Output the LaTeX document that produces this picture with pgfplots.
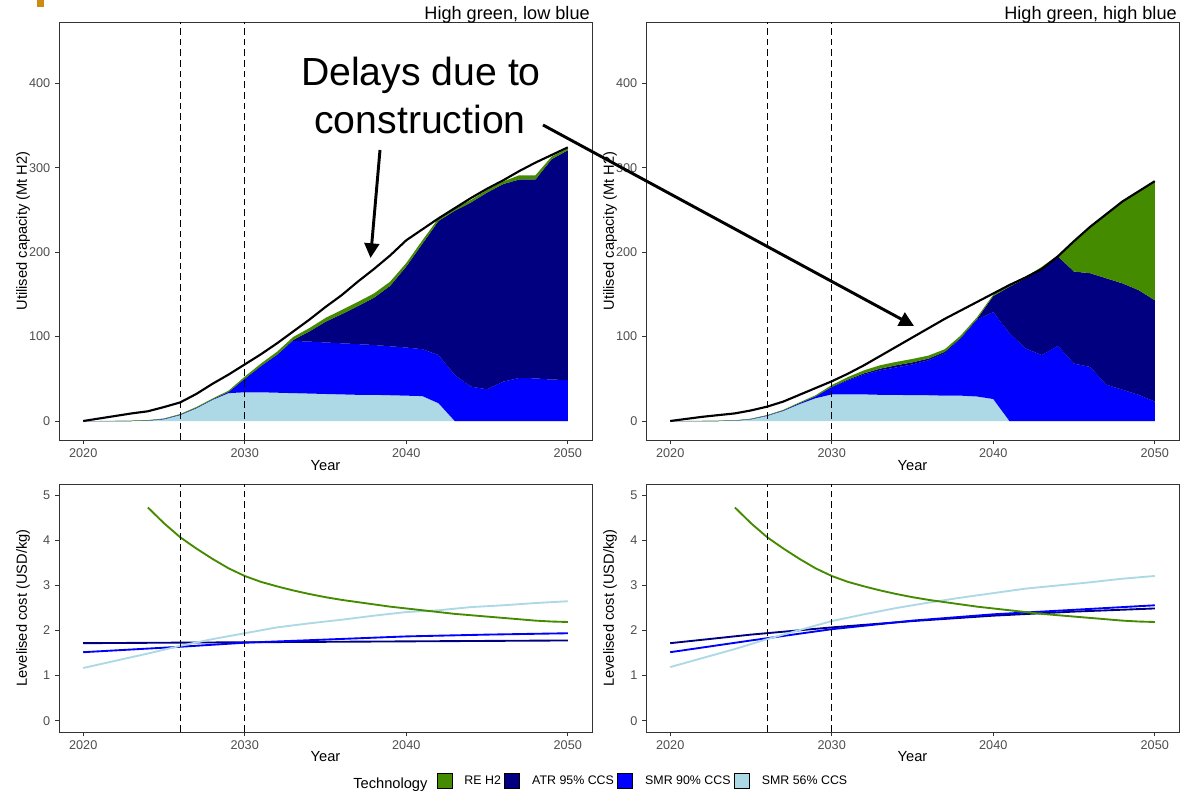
\documentclass[border=0pt]{standalone}
\usepackage{pgfplots}
\pgfplotsset{compat=1.18}
\usepackage{pgfplotstable}
\usepackage{fontspec}
\setmainfont{Liberation Sans}
\usetikzlibrary{arrows.meta}

\definecolor{reh}{RGB}{69,139,0}
\definecolor{atr}{RGB}{0,0,128}
\definecolor{smrn}{RGB}{0,0,255}
\definecolor{smrf}{RGB}{173,216,230}
\definecolor{tickgray}{RGB}{77,77,77}
\definecolor{framegray}{RGB}{51,51,51}
\definecolor{goldmark}{RGB}{204,140,20}

% Top-left: High green, low blue (utilised capacity, Mt H2)
\pgfplotstableread{
year smrf smrn atr reh total
2020 0 0 0 0 0
2021 0 0 0 0 3
2022 0 0 0 0.3 6
2023 0 0 0 0.5 9
2024 0.3 0.3 0 0.5 11.5
2025 2 0.5 0 0.5 16.5
2026 7 0.5 0 0.7 22
2027 15 0.5 0 1 32
2028 25 0.5 0 1 44
2029 33 1.5 0 1.5 55
2030 34 16 0 2.5 67
2031 34 31 0 3 79
2032 33.5 45 0 3.5 92
2033 33 62 1 3.5 106
2034 32.5 61.5 12 4 120
2035 32 61 24.5 4.5 135
2036 31.5 60.5 34.5 5 149
2037 31 60 45 5 165
2038 31 59 56 5 180
2039 30.5 58 71.5 5 196
2040 30 57 96 4 214
2041 29.5 55.5 125 4 227
2042 21 57 159 3 240
2043 0 54.5 194.5 3 252
2044 0 40.7 218 3 264
2045 0 37.5 233 3 275
2046 0 46.6 234 3 285
2047 0 51 235 5 296
2048 0 50.5 235.5 5 306
2049 0 49 261 3 315
2050 0 48.6 272 2 324
}\capLL

% Top-right: High green, high blue
\pgfplotstableread{
year smrf smrn atr reh total
2020 0 0 0 0 0
2021 0 0 0 0 2.5
2022 0 0 0 0.3 5
2023 0 0 0 0.5 7
2024 0.3 0.2 0 0.3 9
2025 2 0.3 0 0.5 12.5
2026 6 0.5 0 0.5 17
2027 12 0.5 0 0.7 23
2028 20 1 0 1 31
2029 27 2 0.3 1.2 39
2030 31.5 8.5 0.5 2 47
2031 31.5 16.5 1 3 56
2032 31.5 23.5 1.5 3.5 66
2033 31 29 2 4 77
2034 31 32.5 2.5 4 88
2035 30.5 36.5 2.5 4 99
2036 30.5 41.5 2 3.5 110
2037 30 50 2 3 121
2038 30 68 1 2.5 131
2039 29 91 1 2 141
2040 26 103 19 1.5 151
2041 0 104 55 1.5 161
2042 0 86 83 1.5 170
2043 0 78 103 1.5 180
2044 0 89 106 1 195
2045 0 68 109 36 213
2046 0 64 111 55 230
2047 0 43 126 76 245
2048 0 37 126 97 260
2049 0 31 124 117 272
2050 0 23 120 141 284
}\capHH

\pgfplotsset{
  panel/.style={
    scale only axis,
    width=399.75pt,
    xmin=2018.5, xmax=2051.5,
    xtick={2020,2030,2040,2050},
    axis line style={framegray, line width=0.7pt},
    tick style={framegray, line width=0.6pt},
    tick align=outside,
    major tick length=3pt,
    xtick pos=bottom, ytick pos=left,
    ticklabel style={font=\fontsize{9.5}{11}\selectfont, color=tickgray},
    /pgf/number format/assume math mode=true,
    /pgf/number format/1000 sep={},
    label style={font=\fontsize{11}{13}\selectfont},
    every axis title shift=0pt,
    title style={at={(rel axis cs:1,1)}, anchor=base east, xshift=-1.5pt, yshift=1.5pt,
      font=\fontsize{13.6}{15}\selectfont, inner sep=0pt},
  },
  toppanel/.style={
    panel, height=313.5pt,
    ymin=-22.5, ymax=472.5, ytick={0,100,200,300,400},
    xlabel={Year}, ylabel={Utilised capacity (Mt H2)},
    xlabel style={at={(axis description cs:0.5,-0.0622)}, anchor=center},
    ylabel style={at={(axis description cs:-0.0675,0.5)}, anchor=center},
  },
  botpanel/.style={
    panel, height=186pt,
    ymin=-0.25, ymax=5.25, ytick={0,1,2,3,4,5},
    xlabel={Year}, ylabel={Levelised cost (USD/kg)},
    xlabel style={at={(axis description cs:0.5,-0.0996)}, anchor=center},
    ylabel style={at={(axis description cs:-0.0675,0.5)}, anchor=center},
  },
  area/.style={draw=none, stack plots=y, forget plot},
  costline/.style={line width=1.4pt, forget plot},
  vdash/.style={black, line width=0.6pt, dash pattern=on 5pt off 3pt, forget plot},
}

\begin{document}
\begin{tikzpicture}
\path[use as bounding box] (0pt,0pt) rectangle (886.5pt,595.5pt);
\fill[goldmark] (28.1pt,590pt) rectangle (33pt,595.5pt);

% ---------- top-left ----------
\begin{axis}[toppanel, at={(44.25pt,265.5pt)}, anchor=south west,
  title={High green, low blue}]
\addplot[area, fill=smrf] table[x=year,y=smrf]{\capLL} \closedcycle;
\addplot[area, fill=smrn] table[x=year,y=smrn]{\capLL} \closedcycle;
\addplot[area, fill=atr] table[x=year,y=atr]{\capLL} \closedcycle;
\addplot[area, fill=reh] table[x=year,y=reh]{\capLL} \closedcycle;
\addplot[black, line width=1.6pt, forget plot] table[x=year,y=total]{\capLL};
\addplot[vdash] coordinates {(2026,-22.5) (2026,472.5)};
\addplot[vdash] coordinates {(2030,-22.5) (2030,472.5)};
\end{axis}

% ---------- top-right ----------
\begin{axis}[toppanel, at={(484.5pt,265.5pt)}, anchor=south west,
  title={High green, high blue}]
\addplot[area, fill=smrf] table[x=year,y=smrf]{\capHH} \closedcycle;
\addplot[area, fill=smrn] table[x=year,y=smrn]{\capHH} \closedcycle;
\addplot[area, fill=atr] table[x=year,y=atr]{\capHH} \closedcycle;
\addplot[area, fill=reh] table[x=year,y=reh]{\capHH} \closedcycle;
\addplot[black, line width=1.6pt, forget plot] table[x=year,y=total]{\capHH};
\addplot[vdash] coordinates {(2026,-22.5) (2026,472.5)};
\addplot[vdash] coordinates {(2030,-22.5) (2030,472.5)};
\end{axis}

% ---------- bottom-left ----------
\begin{axis}[botpanel, at={(44.25pt,46.5pt)}, anchor=south west,
  legend style={at={(rel axis cs:0.708,-0.1976)}, anchor=west, draw=none, fill=none,
    inner xsep=0pt, inner ysep=0pt, legend columns=-1,
    font=\fontsize{9.3}{11}\selectfont, nodes={inner sep=2pt},
    /tikz/every odd column/.append style={column sep=7.25pt},
    /tikz/every even column/.append style={column sep=0.5pt}},
  legend image code/.code={\fill[#1] (0pt,-5.6pt) rectangle (11.25pt,5.6pt);}]
\addplot[costline, atr] coordinates {(2020,1.72)(2030,1.74)(2040,1.76)(2050,1.78)};
\addplot[costline, smrn] coordinates {(2020,1.52)(2025,1.62)(2026,1.64)(2030,1.73)(2035,1.80)(2040,1.87)(2045,1.91)(2050,1.94)};
\addplot[costline, smrf] coordinates {(2020,1.17)(2022,1.33)(2024,1.49)(2026,1.66)(2028,1.81)(2030,1.94)(2032,2.07)(2034,2.16)(2036,2.24)(2038,2.33)(2040,2.41)(2042,2.45)(2044,2.52)(2046,2.56)(2048,2.61)(2050,2.65)};
\addplot[costline, reh] coordinates {(2024,4.73)(2025,4.38)(2026,4.07)(2027,3.82)(2028,3.59)(2029,3.38)(2030,3.21)(2031,3.08)(2032,2.98)(2033,2.89)(2034,2.81)(2035,2.74)(2036,2.68)(2037,2.63)(2038,2.58)(2039,2.53)(2040,2.49)(2041,2.45)(2042,2.41)(2043,2.37)(2044,2.34)(2045,2.31)(2046,2.28)(2047,2.25)(2048,2.22)(2049,2.20)(2050,2.19)};
\addplot[vdash] coordinates {(2026,-0.25) (2026,5.25)};
\addplot[vdash] coordinates {(2030,-0.25) (2030,5.25)};
\addlegendimage{fill=reh}\addlegendentry{RE H2}
\addlegendimage{fill=atr}\addlegendentry{ATR 95\% CCS}
\addlegendimage{fill=smrn}\addlegendentry{SMR 90\% CCS}
\addlegendimage{fill=smrf}\addlegendentry{SMR 56\% CCS}
\end{axis}

% ---------- bottom-right ----------
\begin{axis}[botpanel, at={(484.5pt,46.5pt)}, anchor=south west]
\addplot[costline, atr] coordinates {(2020,1.72)(2025,1.91)(2030,2.07)(2035,2.21)(2040,2.33)(2045,2.42)(2050,2.49)};
\addplot[costline, smrn] coordinates {(2020,1.52)(2025,1.78)(2030,2.03)(2035,2.22)(2040,2.36)(2045,2.46)(2050,2.56)};
\addplot[costline, smrf] coordinates {(2020,1.19)(2022,1.39)(2024,1.59)(2026,1.81)(2028,2.01)(2030,2.21)(2032,2.36)(2034,2.50)(2036,2.62)(2038,2.73)(2040,2.83)(2042,2.93)(2044,3.00)(2046,3.07)(2048,3.15)(2050,3.21)};
\addplot[costline, reh] coordinates {(2024,4.73)(2025,4.38)(2026,4.07)(2027,3.82)(2028,3.59)(2029,3.38)(2030,3.21)(2031,3.08)(2032,2.98)(2033,2.89)(2034,2.81)(2035,2.74)(2036,2.68)(2037,2.63)(2038,2.58)(2039,2.53)(2040,2.49)(2041,2.45)(2042,2.41)(2043,2.37)(2044,2.34)(2045,2.31)(2046,2.28)(2047,2.25)(2048,2.22)(2049,2.20)(2050,2.19)};
\addplot[vdash] coordinates {(2026,-0.25) (2026,5.25)};
\addplot[vdash] coordinates {(2030,-0.25) (2030,5.25)};
\end{axis}

% legend title
\node[anchor=base west, inner sep=0pt, font=\fontsize{11}{13}\selectfont] at (264.75pt,4.5pt) {Technology};

% annotation
\node[anchor=base, inner sep=0pt, font=\fontsize{29.4}{34}\selectfont] at (315.75pt,531pt) {Delays due to};
\node[anchor=base, inner sep=0pt, font=\fontsize{29.4}{34}\selectfont] at (315pt,495.5pt) {construction};
\draw[line width=2.2pt, -{Triangle[length=11pt,width=11pt]}] (285pt,483pt) -- (277.9pt,402pt);
\draw[line width=2.2pt, -{Triangle[length=11pt,width=11pt]}] (407.25pt,501.75pt) -- (685.5pt,351pt);
\end{tikzpicture}
\end{document}
